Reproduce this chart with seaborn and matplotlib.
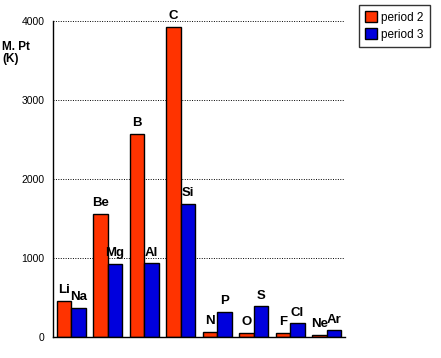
import numpy as np
import pandas as pd
import seaborn as sns
import matplotlib.pyplot as plt

# melting points (K)
groups = ["1", "2", "3", "4", "5", "6", "7", "8"]
period2_symbols = ["Li", "Be", "B", "C", "N", "O", "F", "Ne"]
period3_symbols = ["Na", "Mg", "Al", "Si", "P", "S", "Cl", "Ar"]
period2_mpt = [454, 1560, 2573, 3925, 63, 55, 53, 25]
period3_mpt = [371, 923, 933, 1687, 317, 388, 172, 84]

df = pd.DataFrame({
    "group": groups * 2,
    "mpt": period2_mpt + period3_mpt,
    "period": ["period 2"] * len(groups) + ["period 3"] * len(groups),
})

sns.set_style("white")
plt.rcParams["font.family"] = ["Liberation Sans", "DejaVu Sans"]
plt.rcParams["text.color"] = "black"
plt.rcParams["xtick.color"] = "black"
plt.rcParams["ytick.color"] = "black"

fig = plt.figure(figsize=(4.41, 3.58), dpi=100)
ax = fig.add_axes([0.120, 0.0587, 0.662, 0.8823])

sns.barplot(data=df, x="group", y="mpt", hue="period",
            palette=["#FF3300", "#0000DD"], edgecolor="black", linewidth=1,
            saturation=1, ax=ax)

ax.set_ylim(0, 4000)
ax.set_xlim(-0.5, len(groups) - 0.5)
ax.set_yticks([0, 1000, 2000, 3000, 4000])
ax.set_yticklabels(["0", "1000", "2000", "3000", "4000"], fontsize=7.5)
ax.set_xticks(np.arange(len(groups) + 1) - 0.5)
ax.set_xticklabels([])
ax.tick_params(axis="both", direction="out", length=4, width=1, color="black")
ax.tick_params(axis="y", pad=2)
ax.set_xlabel("")
ax.set_ylabel("")
for y in [1000, 2000, 3000, 4000]:
    ax.axhline(y, color="black", linestyle=(0, (1, 1.5)), linewidth=0.7, zorder=0)
for side in ["top", "right"]:
    ax.spines[side].set_visible(False)
for side in ["left", "bottom"]:
    ax.spines[side].set_color("black")
    ax.spines[side].set_linewidth(1)

# element symbols above bars
labels = period2_symbols + period3_symbols
for bar, lab in zip(ax.patches[:len(labels)], labels):
    ax.text(bar.get_x() + bar.get_width() / 2, bar.get_height() + 60, lab,
            ha="center", va="bottom", fontsize=9.5, fontweight="bold", clip_on=False)

leg = ax.legend(loc="upper left", bbox_to_anchor=(1.04, 1.06), frameon=True,
                fancybox=False, edgecolor="black", fontsize=8.5,
                handlelength=1.0, handleheight=1.1, handletextpad=0.3,
                borderpad=0.55, borderaxespad=0.2, labelspacing=0.35)
leg.get_frame().set_linewidth(1)

fig.text(0.005, 0.885, "M. Pt\n(K)", fontsize=8.5, fontweight="bold",
         ha="left", va="top", linespacing=0.95)

fig.savefig("out.png", dpi=100)
